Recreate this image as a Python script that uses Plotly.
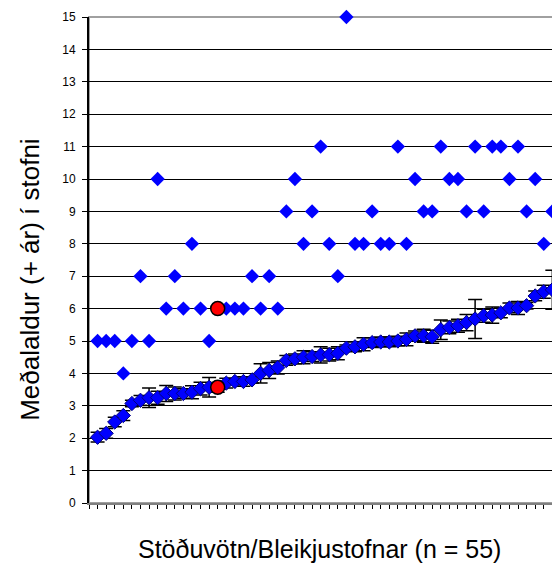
import plotly.graph_objects as go

# stofnar raðaðir eftir meðalaldri
stofn = list(range(1, 56))
medal = [2.03, 2.15, 2.5, 2.7, 3.07, 3.17, 3.25, 3.25, 3.38, 3.38,
         3.38, 3.42, 3.53, 3.57, 3.57, 3.7, 3.75, 3.75, 3.8, 4.0,
         4.09, 4.18, 4.4, 4.45, 4.5, 4.52, 4.57, 4.58, 4.62, 4.78,
         4.82, 4.9, 4.95, 4.97, 4.97, 5.0, 5.05, 5.16, 5.16, 5.13,
         5.35, 5.42, 5.47, 5.57, 5.68, 5.78, 5.8, 5.87, 6.02, 6.02,
         6.09, 6.39, 6.52, 6.58, 7.38]
skekkja = [0.15, 0.15, 0.15, 0.15, 0.1, 0.15, 0.3, 0.2, 0.25, 0.2,
           0.15, 0.2, 0.2, 0.3, 0.15, 0.15, 0.1, 0.15, 0.1, 0.3,
           0.25, 0.2, 0.15, 0.15, 0.2, 0.15, 0.25, 0.2, 0.2, 0.1,
           0.15, 0.2, 0.15, 0.15, 0.15, 0.15, 0.2, 0.15, 0.2, 0.2,
           0.3, 0.2, 0.2, 0.25, 0.6, 0.2, 0.25, 0.15, 0.15, 0.2,
           0.1, 0.15, 0.2, 0.6, 0.3]
hamark = [5, 5, 5, 4, 5, 7, 5, 10, 6, 7,
          6, 8, 6, 5, 6, 6, 6, 6, 7, 6,
          7, 6, 9, 10, 8, 9, 11, 8, 7, 15,
          8, 8, 9, 8, 8, 11, 8, 10, 9, 9,
          11, 10, 10, 9, 11, 9, 11, 11, 10, 11,
          9, 10, 8, 9, 13]
valinn = 15  # stofn merktur með rauðu

FONT = "Arial, Liberation Sans, sans-serif"

fig = go.Figure()

# meðalaldur með skekkjumörkum
fig.add_trace(go.Scatter(
    x=stofn, y=medal, mode="markers", cliponaxis=False,
    marker=dict(symbol="diamond", size=11, color="#0000FF",
                line=dict(color="#000080", width=1)),
    error_y=dict(type="data", array=skekkja, color="black", thickness=1.5, width=7),
))

# hámarksaldur
fig.add_trace(go.Scatter(
    x=stofn, y=hamark, mode="markers", cliponaxis=False,
    marker=dict(symbol="diamond", size=11, color="#0000FF"),
))

# valinn stofn
i = stofn.index(valinn)
fig.add_trace(go.Scatter(
    x=[valinn, valinn], y=[medal[i], hamark[i]], mode="markers", cliponaxis=False,
    marker=dict(symbol="circle", size=14, color="#FF0000",
                line=dict(color="black", width=1.5)),
))

fig.add_shape(type="rect", xref="paper", yref="paper", x0=0, x1=1, y0=0, y1=1,
              line=dict(color="#A0A0A0", width=2), layer="below")

fig.update_xaxes(
    range=[0, 54.66], showgrid=False, zeroline=False,
    tick0=0, dtick=1, ticks="outside", ticklen=4, tickcolor="black",
    showticklabels=False, showline=True, linecolor="#808080", linewidth=1.5,
)
fig.update_yaxes(
    range=[0, 15], dtick=1, showgrid=True, gridcolor="black", gridwidth=1,
    zeroline=False, ticks="outside", ticklen=5, tickcolor="black",
    showline=True, linecolor="black", linewidth=2, ticklabelstandoff=4,
    tickfont=dict(family=FONT, size=12, color="black"),
)

fig.add_annotation(text="Meðalaldur (+ ár) í stofni", xref="paper", yref="paper",
                   x=-0.126, y=0.461, xanchor="center", yanchor="middle",
                   textangle=-90, showarrow=False,
                   font=dict(family=FONT, size=26, color="black"))
fig.add_annotation(text="Stöðuvötn/Bleikjustofnar (n = 55)", xref="paper", yref="paper",
                   x=0.4925, y=-0.094, xanchor="center", yanchor="middle", showarrow=False,
                   font=dict(family=FONT, size=25, color="black"))

fig.update_layout(
    width=552, height=558, showlegend=False,
    plot_bgcolor="white", paper_bgcolor="white",
    margin=dict(l=81, r=2, t=7, b=63),
)

fig.write_html("out.html")
